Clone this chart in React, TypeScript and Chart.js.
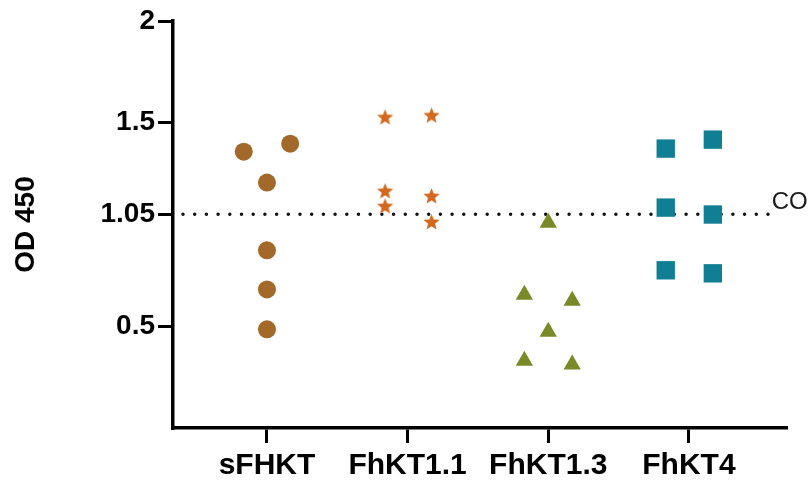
import React, { useEffect, useRef } from "react";
import { Chart, registerables } from "chart.js";

Chart.register(...registerables);

// ---- data ----
const categories = ["sFHKT", "FhKT1.1", "FhKT1.3", "FhKT4"];
const yTickValues = [0.5, 1.05, 1.5, 2];
const yTickLabels = ["0.5", "1.05", "1.5", "2"];
const cutoffValue = 1.05;
const cutoffLabel = "CO";
const cutoffStartEnd = [0.403, 4.596];

const sfhktOffsets = [-0.165, 0.165, 0, 0, 0, 0];
const sfhktValues = [1.358, 1.397, 1.206, 0.873, 0.681, 0.485];
const fhkt11Offsets = [-0.16, 0.17, -0.16, -0.16, 0.17, 0.17];
const fhkt11Values = [1.525, 1.534, 1.162, 1.088, 1.137, 1.01];
const fhkt13Offsets = [0, -0.17, 0.17, 0, -0.17, 0.17];
const fhkt13Values = [1.008, 0.655, 0.625, 0.473, 0.331, 0.312];
const fhkt4Offsets = [-0.165, 0.17, -0.165, 0.17, -0.165, 0.17];
const fhkt4Values = [1.373, 1.417, 1.083, 1.049, 0.775, 0.76];

const FONT = '"Liberation Sans", Arial, sans-serif';

function makeStar(color: string, outer: number, inner: number) {
  const c = document.createElement("canvas");
  const s = Math.ceil(outer * 2 + 2);
  c.width = s;
  c.height = s;
  const ctx = c.getContext("2d")!;
  ctx.beginPath();
  for (let i = 0; i < 10; i++) {
    const r = i % 2 ? inner : outer;
    const a = -Math.PI / 2 + (i * Math.PI) / 5;
    ctx.lineTo(s / 2 + r * Math.cos(a), s / 2 + r * Math.sin(a));
  }
  ctx.closePath();
  ctx.fillStyle = color;
  ctx.fill();
  return c;
}

function pts(cat: number, offsets: number[], values: number[]) {
  return values.map((v, i) => ({ x: cat + 1 + offsets[i], y: v }));
}

export default function App() {
  const ref = useRef<HTMLCanvasElement | null>(null);

  useEffect(() => {
    document.body.style.margin = "0";
    const canvas = ref.current;
    if (!canvas) return;
    const star = makeStar("#D2691F", 8.5, 3.7);

    const coPlugin = {
      id: "coLabel",
      afterDatasetsDraw(chart: any) {
        const { ctx, scales } = chart;
        const x = scales.x.getPixelForValue(cutoffStartEnd[1]) - 1;
        const y = scales.y.getPixelForValue(cutoffValue) - 5;
        ctx.save();
        ctx.font = `24px ${FONT}`;
        ctx.fillStyle = "#1a1a1a";
        ctx.textBaseline = "alphabetic";
        ctx.textAlign = "left";
        ctx.fillText(cutoffLabel, x, y);
        ctx.restore();
      },
    };

    const chart = new Chart(canvas, {
      type: "scatter",
      data: {
        datasets: [
          {
            type: "line",
            data: cutoffStartEnd.map((x) => ({ x, y: cutoffValue })),
            borderColor: "#111",
            borderWidth: 3.5,
            borderDash: [0, 11.7],
            borderCapStyle: "round",
            pointRadius: 0,
            order: 10,
          } as any,
          {
            data: pts(0, sfhktOffsets, sfhktValues),
            pointStyle: "circle",
            pointRadius: 9,
            backgroundColor: "#A3692A",
            borderColor: "#A3692A",
            borderWidth: 0,
            order: 0,
          },
          {
            data: pts(1, fhkt11Offsets, fhkt11Values),
            pointStyle: star as any,
            pointRadius: 9,
            backgroundColor: "#D2691F",
            borderColor: "#D2691F",
            order: 0,
          },
          {
            data: pts(2, fhkt13Offsets, fhkt13Values),
            pointStyle: "triangle",
            pointRadius: 10,
            backgroundColor: "#7B8A28",
            borderColor: "#7B8A28",
            borderWidth: 0,
            order: 0,
          },
          {
            data: pts(3, fhkt4Offsets, fhkt4Values),
            pointStyle: "rect",
            pointRadius: 13,
            backgroundColor: "#117F93",
            borderColor: "#117F93",
            borderWidth: 0,
            order: 0,
          },
        ],
      },
      options: {
        animation: false,
        responsive: true,
        maintainAspectRatio: false,
        layout: { padding: { top: 21, right: 23, left: 0, bottom: 0 } },
        plugins: { legend: { display: false }, tooltip: { enabled: false } },
        scales: {
          x: {
            type: "linear",
            min: 0.332,
            max: 4.69,
            afterBuildTicks: (scale: any) => {
              scale.ticks = categories.map((_, i) => ({ value: i + 1 }));
            },
            afterFit: (scale: any) => {
              scale.height = 55;
            },
            ticks: {
              autoSkip: false,
              maxRotation: 0,
              padding: 5,
              color: "#000",
              font: { family: FONT, size: 30, weight: "bold" },
              callback: (v: any) => categories[Math.round(Number(v)) - 1],
            },
            grid: {
              display: true,
              drawOnChartArea: false,
              drawTicks: true,
              tickLength: 15,
              lineWidth: 3,
              color: "#000",
            },
            border: { display: true, width: 3.5, color: "#000" },
          },
          y: {
            type: "linear",
            min: 0,
            max: 2,
            afterBuildTicks: (scale: any) => {
              scale.ticks = yTickValues.map((v) => ({ value: v }));
            },
            afterFit: (scale: any) => {
              scale.width = 173;
            },
            ticks: {
              autoSkip: false,
              padding: 3,
              color: "#000",
              font: { family: FONT, size: 28, weight: "bold" },
              callback: (v: any) => {
                const i = yTickValues.findIndex((t) => Math.abs(t - Number(v)) < 1e-6);
                return i >= 0 ? yTickLabels[i] : "";
              },
            },
            grid: {
              display: true,
              drawOnChartArea: false,
              drawTicks: true,
              tickLength: 15,
              lineWidth: 3,
              color: "#000",
            },
            border: { display: true, width: 3.5, color: "#000" },
            title: {
              display: true,
              text: "OD 450",
              color: "#000",
              font: { family: FONT, size: 28, weight: "bold" },
              padding: { top: 9, bottom: 0 },
            },
          },
        },
      },
      plugins: [coPlugin],
    });

    return () => chart.destroy();
  }, []);

  return (
    <div style={{ width: 809, height: 483, position: "relative" }}>
      <canvas ref={ref} />
    </div>
  );
}
